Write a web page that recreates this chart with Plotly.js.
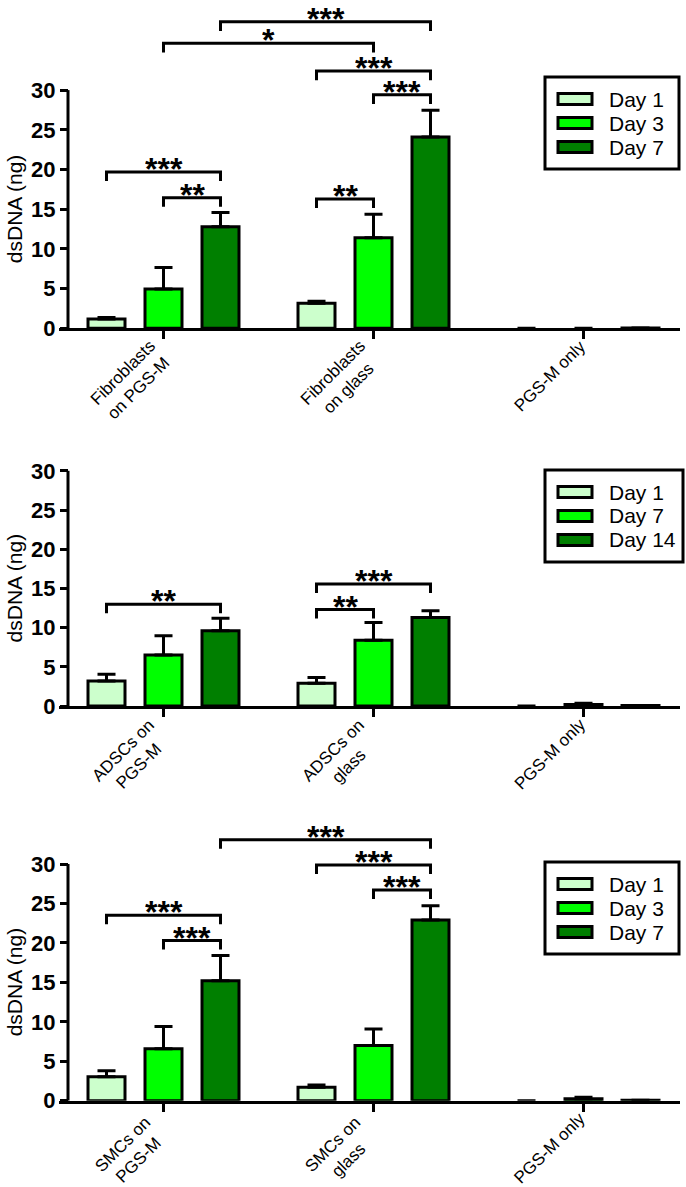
<!DOCTYPE html>
<html>
<head>
<meta charset="utf-8">
<script src="https://cdn.plot.ly/plotly-3.0.1.min.js"></script>
<style>
  html, body { margin: 0; padding: 0; background: #fff; }
  #chart { width: 686px; height: 1187px; }
</style>
</head>
<body>
<div id="chart"></div>
<script>
'use strict';

// ---- data ----------------------------------------------------------------
var fibCategories = ['Fibroblasts<br>on PGS-M', 'Fibroblasts<br>on glass', 'PGS-M only'];
var adscCategories = ['ADSCs on<br>PGS-M', 'ADSCs on<br>glass', 'PGS-M only'];
var smcCategories = ['SMCs on<br>PGS-M', 'SMCs on<br>glass', 'PGS-M only'];

var fibDays = ['Day 1', 'Day 3', 'Day 7'];
var adscDays = ['Day 1', 'Day 7', 'Day 14'];
var smcDays = ['Day 1', 'Day 3', 'Day 7'];

// means per day (across the three categories) and upper SEM
var fibDay1 = [1.17, 3.15, 0];
var fibDay3 = [4.95, 11.4, 0];
var fibDay7 = [12.8, 24.1, 0.05];
var fibDay1Err = [0.2, 0.25, 0];
var fibDay3Err = [2.7, 2.95, 0];
var fibDay7Err = [1.8, 3.35, 0];

var adscDay1 = [3.2, 2.9, 0];
var adscDay7 = [6.5, 8.4, 0.2];
var adscDay14 = [9.6, 11.3, 0.05];
var adscDay1Err = [0.85, 0.75, 0];
var adscDay7Err = [2.45, 2.25, 0.15];
var adscDay14Err = [1.6, 0.85, 0];

var smcDay1 = [3.05, 1.7, 0];
var smcDay3 = [6.6, 7.0, 0.25];
var smcDay7 = [15.2, 22.9, 0.05];
var smcDay1Err = [0.75, 0.3, 0];
var smcDay3Err = [2.8, 2.1, 0.2];
var smcDay7Err = [3.2, 1.8, 0];

// significance brackets: [category, day] -> [category, day], level, label
var fibSigFrom = [[0, 2], [0, 1], [1, 0], [1, 1], [0, 0], [0, 1], [1, 0]];
var fibSigTo = [[1, 2], [1, 1], [1, 2], [1, 2], [0, 2], [0, 2], [1, 1]];
var fibSigY = [38.6, 35.9, 32.4, 29.4, 19.7, 16.45, 16.3];
var fibSigText = ['***', '*', '***', '***', '***', '**', '**'];

var adscSigFrom = [[0, 0], [1, 0], [1, 0]];
var adscSigTo = [[0, 2], [1, 2], [1, 1]];
var adscSigY = [12.97, 15.56, 12.3];
var adscSigText = ['**', '***', '**'];

var smcSigFrom = [[0, 2], [1, 0], [1, 1], [0, 0], [0, 1]];
var smcSigTo = [[1, 2], [1, 2], [1, 2], [0, 2], [0, 2]];
var smcSigY = [33.07, 29.87, 26.7, 23.5, 20.3];
var smcSigText = ['***', '***', '***', '***', '***'];

var yTickVals = [0, 5, 10, 15, 20, 25, 30];
var dayColors = ['#ccffcc', '#00ff00', '#007f00'];

// ---- geometry --------------------------------------------------------------
var W = 686, H = 1187;
var X_LEFT = 59, X_RIGHT = 680, Y_AXIS_PX = 68;
var CAT0_PX = 163.5, CAT_PX = 210;
var SLOT = 57 / CAT_PX;          // distance between bar centres
var BAR_W = 37 / CAT_PX;         // bar path width
var LEG = 1.15;                  // bracket leg length (data units)
var FONT = 'Arial, "Liberation Sans", Helvetica, sans-serif';

var panels = [
  { zero: 328.3, ppu: 7.94, top: 0, legendTop: 77, legendRight: 679,
    cats: fibCategories, days: fibDays,
    means: [fibDay1, fibDay3, fibDay7], errs: [fibDay1Err, fibDay3Err, fibDay7Err],
    sigFrom: fibSigFrom, sigTo: fibSigTo, sigY: fibSigY, sigText: fibSigText },
  { zero: 706, ppu: 7.84, top: 430, legendTop: 470, legendRight: 683,
    cats: adscCategories, days: adscDays,
    means: [adscDay1, adscDay7, adscDay14], errs: [adscDay1Err, adscDay7Err, adscDay14Err],
    sigFrom: adscSigFrom, sigTo: adscSigTo, sigY: adscSigY, sigText: adscSigText },
  { zero: 1100.7, ppu: 7.89, top: 810, legendTop: 862, legendRight: 679,
    cats: smcCategories, days: smcDays,
    means: [smcDay1, smcDay3, smcDay7], errs: [smcDay1Err, smcDay3Err, smcDay7Err],
    sigFrom: smcSigFrom, sigTo: smcSigTo, sigY: smcSigY, sigText: smcSigText }
];

function barX(cat, day) {
  return cat + (day - 1) * SLOT;
}

function py(px) {
  return 1 - px / H;
}

var traces = [];
var shapes = [];
var annotations = [];
var layout = {
  width: W,
  height: H,
  margin: { l: 0, r: 0, t: 0, b: 0 },
  paper_bgcolor: '#fff',
  plot_bgcolor: 'rgba(0,0,0,0)',
  showlegend: false,
  barmode: 'overlay',
  font: { family: FONT, color: '#000' }
};

panels.forEach(function (p, i) {
  var n = i === 0 ? '' : String(i + 1);
  var xa = 'x' + n, ya = 'y' + n;
  var xRange = [(X_LEFT - CAT0_PX) / CAT_PX, (X_RIGHT - CAT0_PX) / CAT_PX];
  var yTop = (p.zero - p.top) / p.ppu;

  layout['xaxis' + n] = {
    domain: [X_LEFT / W, X_RIGHT / W],
    range: xRange,
    anchor: ya,
    showgrid: false,
    zeroline: false,
    showline: true,
    linecolor: '#000',
    linewidth: 3,
    ticks: 'outside',
    ticklen: 8,
    tickwidth: 3,
    tickcolor: '#000',
    tickvals: [0, 1, 2],
    showticklabels: false,
    fixedrange: true
  };
  layout['yaxis' + n] = {
    domain: [py(p.zero), py(p.top)],
    range: [0, yTop],
    anchor: 'free',
    position: Y_AXIS_PX / W,
    showgrid: false,
    zeroline: false,
    showline: false,
    ticks: 'outside',
    ticklen: 8,
    tickwidth: 3,
    tickcolor: '#000',
    tickvals: yTickVals,
    tickfont: { family: FONT, size: 22, color: '#000', weight: 'bold' },
    fixedrange: true
  };

  // bars
  p.means.forEach(function (vals, d) {
    traces.push({
      type: 'bar',
      name: p.days[d],
      xaxis: xa,
      yaxis: ya,
      x: vals.map(function (v, c) { return barX(c, d); }),
      y: vals,
      width: BAR_W,
      marker: {
        color: dayColors[d],
        line: { color: '#000', width: vals.map(function (v) { return v > 0 ? 3 : 0; }) }
      },
      error_y: {
        type: 'data',
        symmetric: false,
        array: p.errs[d],
        arrayminus: p.errs[d].map(function () { return 0; }),
        color: '#000',
        thickness: 3,
        width: 9
      },
      hoverinfo: 'skip'
    });
  });

  // category labels, rotated and centred
  p.cats.forEach(function (label, c) {
    var twoLines = label.indexOf('<br>') >= 0;
    annotations.push({
      xref: xa, yref: ya, x: c, y: 0,
      text: label, showarrow: false, textangle: -45, align: 'center',
      xanchor: 'center', yanchor: 'middle',
      xshift: twoLines ? -33 : -34, yshift: twoLines ? -52 : -48,
      font: { family: FONT, size: 17, color: '#000' }
    });
  });

  // y axis line, only over 0-30
  shapes.push({
    type: 'line', xref: 'paper', yref: ya,
    x0: Y_AXIS_PX / W, x1: Y_AXIS_PX / W, y0: 0, y1: 30,
    line: { color: '#000', width: 3 }
  });

  // significance brackets
  p.sigY.forEach(function (lvl, k) {
    var a = barX(p.sigFrom[k][0], p.sigFrom[k][1]);
    var b = barX(p.sigTo[k][0], p.sigTo[k][1]);
    shapes.push({
      type: 'path', xref: xa, yref: ya,
      path: 'M' + a + ',' + (lvl - LEG) + ' L' + a + ',' + lvl +
            ' L' + b + ',' + lvl + ' L' + b + ',' + (lvl - LEG),
      line: { color: '#000', width: 3 }
    });
    annotations.push({
      xref: xa, yref: ya, x: (a + b) / 2, y: lvl,
      text: p.sigText[k], showarrow: false,
      height: 20, valign: 'top',
      xanchor: 'center', yanchor: 'bottom', yshift: -1,
      font: { family: FONT, size: 32, color: '#000', weight: 'bold' }
    });
  });

  // y axis title
  annotations.push({
    xref: 'paper', yref: ya, x: 14 / W, y: 15,
    text: 'dsDNA (ng)', textangle: -90, showarrow: false,
    xanchor: 'center', yanchor: 'middle',
    font: { family: FONT, size: 21, color: '#000' }
  });

  // legend box
  var lx0 = 545, lx1 = p.legendRight, lt = p.legendTop;
  shapes.push({
    type: 'rect', xref: 'paper', yref: 'paper',
    x0: lx0 / W, x1: lx1 / W, y0: py(lt), y1: py(lt + 92),
    line: { color: '#000', width: 3 }, fillcolor: '#fff'
  });
  [22, 46, 70].forEach(function (off, d) {
    var cy = lt + off;
    shapes.push({
      type: 'rect', xref: 'paper', yref: 'paper',
      x0: 558 / W, x1: 592 / W, y0: py(cy - 5.5), y1: py(cy + 5.5),
      line: { color: '#000', width: 3 }, fillcolor: dayColors[d]
    });
    annotations.push({
      xref: 'paper', yref: 'paper', x: 607 / W, y: py(cy),
      text: p.days[d], showarrow: false,
      xanchor: 'left', yanchor: 'middle',
      font: { family: FONT, size: 21, color: '#000' }
    });
  });
});

layout.shapes = shapes;
layout.annotations = annotations;

Plotly.newPlot('chart', traces, layout, { staticPlot: true, displayModeBar: false });
</script>
</body>
</html>
